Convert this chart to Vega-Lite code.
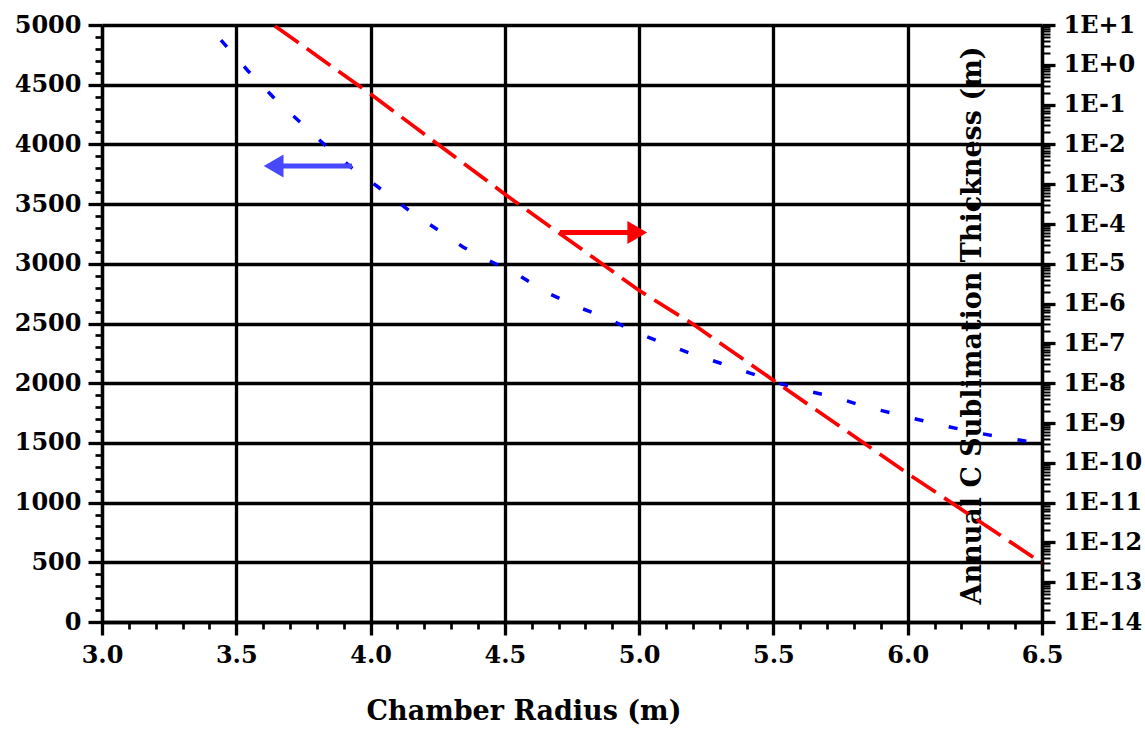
{
  "$schema": "https://vega.github.io/schema/vega-lite/v6.json",
  "width": 940,
  "height": 597,
  "autosize": {"type": "none"},
  "padding": {"left": 102, "top": 25, "right": 103, "bottom": 109},
  "background": "white",
  "config": {
    "view": {"stroke": null},
    "axis": {
      "labelFont": "DejaVu Serif", "labelFontWeight": "bold", "labelFontSize": 24, "labelColor": "black",
      "titleFont": "DejaVu Serif", "titleFontWeight": "bold", "titleFontSize": 27, "titleColor": "black",
      "domainColor": "black", "domainWidth": 3.3, "tickColor": "black", "tickWidth": 3.3,
      "gridColor": "black", "gridWidth": 3.3, "gridOpacity": 1, "labelFlush": false, "labelOverlap": false
    }
  },
  "datasets": {
    "left": [
      {"r": 3.443, "v": 4874}, {"r": 3.544, "v": 4615}, {"r": 3.637, "v": 4397}, {"r": 3.737, "v": 4188},
      {"r": 3.838, "v": 3978}, {"r": 3.931, "v": 3802}, {"r": 4.028, "v": 3643}, {"r": 4.136, "v": 3459},
      {"r": 4.240, "v": 3300}, {"r": 4.344, "v": 3141}, {"r": 4.452, "v": 3015}, {"r": 4.556, "v": 2898},
      {"r": 4.660, "v": 2755}, {"r": 4.772, "v": 2638}, {"r": 4.880, "v": 2546}, {"r": 4.984, "v": 2429},
      {"r": 5.089, "v": 2337}, {"r": 5.197, "v": 2245}, {"r": 5.301, "v": 2169}, {"r": 5.413, "v": 2085},
      {"r": 5.517, "v": 2002}, {"r": 5.625, "v": 1935}, {"r": 5.729, "v": 1884}, {"r": 5.833, "v": 1809},
      {"r": 5.941, "v": 1750}, {"r": 6.045, "v": 1692}, {"r": 6.157, "v": 1633}, {"r": 6.261, "v": 1583},
      {"r": 6.369, "v": 1541}, {"r": 6.500, "v": 1491}
    ],
    "thick": [
      {"r": 3.644, "t": 9.44}, {"r": 4.005, "t": 0.174}, {"r": 4.504, "t": 5.36e-4},
      {"r": 5.003, "t": 2.07e-6}, {"r": 5.200, "t": 3.07e-7}, {"r": 5.509, "t": 1.07e-8},
      {"r": 6.008, "t": 4.93e-11}, {"r": 6.500, "t": 3.03e-13}
    ],
    "arrows": [
      {"arrow": "left", "from": 3.931, "to": 3.66, "head": 3.639, "level": 3819},
      {"arrow": "right", "from": 4.705, "to": 4.97, "head": 4.993, "level": 3262}
    ]
  },
  "layer": [
    {
      "data": {"name": "left"},
      "mark": {"type": "line", "color": "#0000ff", "strokeWidth": 3.5, "strokeDash": [9, 26]},
      "encoding": {
        "x": {"field": "r", "type": "quantitative", "scale": {"domain": [3, 6.5], "nice": false, "zero": false},
          "axis": {"orient": "bottom", "values": [3, 3.5, 4, 4.5, 5, 5.5, 6, 6.5], "format": ".1f", "grid": true, "tickSize": 13, "labelPadding": 8,
            "title": "Chamber Radius (m)", "titleX": 421.5, "titleY": 97, "titleAlign": "center", "titleBaseline": "alphabetic"}},
        "y": {"field": "v", "type": "quantitative", "scale": {"domain": [0, 5000], "nice": false},
          "axis": {"orient": "left", "values": [0, 500, 1000, 1500, 2000, 2500, 3000, 3500, 4000, 4500, 5000], "format": "d", "grid": true, "tickSize": 14, "labelPadding": 7, "title": null}}
      }
    },
    {
      "data": {"name": "left"},
      "mark": {"type": "line", "opacity": 0},
      "encoding": {
        "x": {"field": "r", "type": "quantitative", "scale": {"domain": [3, 6.5], "nice": false, "zero": false},
          "axis": {"orient": "bottom", "values": [3.1, 3.2, 3.3, 3.4, 3.6, 3.7, 3.8, 3.9, 4.1, 4.2, 4.3, 4.4, 4.6, 4.7, 4.8, 4.9, 5.1, 5.2, 5.3, 5.4, 5.6, 5.7, 5.8, 5.9, 6.1, 6.2, 6.3, 6.4],
            "labels": false, "grid": false, "domain": false, "tickSize": 7, "tickWidth": 2.7, "title": null}},
        "y": {"field": "v", "type": "quantitative", "scale": {"domain": [0, 5000], "nice": false},
          "axis": {"orient": "left", "values": [100, 200, 300, 400, 600, 700, 800, 900, 1100, 1200, 1300, 1400, 1600, 1700, 1800, 1900, 2100, 2200, 2300, 2400, 2600, 2700, 2800, 2900, 3100, 3200, 3300, 3400, 3600, 3700, 3800, 3900, 4100, 4200, 4300, 4400, 4600, 4700, 4800, 4900],
            "labels": false, "grid": false, "domain": false, "tickSize": 7, "tickWidth": 2.7, "title": null}}
      }
    },
    {
      "data": {"name": "thick"},
      "mark": {"type": "line", "color": "#ff0000", "strokeWidth": 3.7, "strokeDash": [29, 10]},
      "encoding": {
        "x": {"field": "r", "type": "quantitative", "scale": {"domain": [3, 6.5], "nice": false, "zero": false}, "axis": null},
        "y": {"field": "t", "type": "quantitative", "scale": {"type": "log", "domain": [1e-14, 10], "nice": false},
          "axis": {"orient": "right", "values": [1e-14, 1e-13, 1e-12, 1e-11, 1e-10, 1e-9, 1e-8, 1e-7, 1e-6, 1e-5, 1e-4, 1e-3, 1e-2, 1e-1, 1, 10],
            "labelExpr": "'1E' + (datum.value >= 0.999 ? '+' : '') + round(log(datum.value) / LN10)",
            "grid": false, "tickSize": 13, "labelPadding": 8,
            "title": "Annual C Sublimation Thickness (m)", "titleAngle": 270, "titleX": -62, "titleY": 300,
            "titleAlign": "center", "titleBaseline": "alphabetic"}}
      }
    },
    {
      "data": {"name": "thick"},
      "mark": {"type": "line", "opacity": 0},
      "encoding": {
        "x": {"field": "r", "type": "quantitative", "scale": {"domain": [3, 6.5], "nice": false, "zero": false}, "axis": null},
        "y": {"field": "t", "type": "quantitative", "scale": {"type": "log", "domain": [1e-14, 10], "nice": false},
          "axis": {"orient": "right", "labels": false, "grid": false, "domain": false, "tickSize": 8, "tickWidth": 2, "title": null,
            "values": [2e-14,3e-14,4e-14,5e-14,6e-14,7e-14,8e-14,9e-14,
              2e-13,3e-13,4e-13,5e-13,6e-13,7e-13,8e-13,9e-13,
              2e-12,3e-12,4e-12,5e-12,6e-12,7e-12,8e-12,9e-12,
              2e-11,3e-11,4e-11,5e-11,6e-11,7e-11,8e-11,9e-11,
              2e-10,3e-10,4e-10,5e-10,6e-10,7e-10,8e-10,9e-10,
              2e-9,3e-9,4e-9,5e-9,6e-9,7e-9,8e-9,9e-9,
              2e-8,3e-8,4e-8,5e-8,6e-8,7e-8,8e-8,9e-8,
              2e-7,3e-7,4e-7,5e-7,6e-7,7e-7,8e-7,9e-7,
              2e-6,3e-6,4e-6,5e-6,6e-6,7e-6,8e-6,9e-6,
              2e-5,3e-5,4e-5,5e-5,6e-5,7e-5,8e-5,9e-5,
              2e-4,3e-4,4e-4,5e-4,6e-4,7e-4,8e-4,9e-4,
              2e-3,3e-3,4e-3,5e-3,6e-3,7e-3,8e-3,9e-3,
              2e-2,3e-2,4e-2,5e-2,6e-2,7e-2,8e-2,9e-2,
              0.2,0.3,0.4,0.5,0.6,0.7,0.8,0.9,
              2,3,4,5,6,7,8,9]}}
      }
    },
    {
      "data": {"name": "arrows"},
      "mark": {"type": "rule", "strokeWidth": 5},
      "encoding": {
        "x": {"field": "from", "type": "quantitative", "scale": {"domain": [3, 6.5], "nice": false, "zero": false}, "axis": null},
        "x2": {"field": "to"},
        "y": {"field": "level", "type": "quantitative", "scale": {"domain": [0, 5000], "nice": false}, "axis": null},
        "color": {"field": "arrow", "type": "nominal", "scale": {"domain": ["left", "right"], "range": ["#4848ff", "#ff0000"]}, "legend": null}
      }
    },
    {
      "data": {"name": "arrows"},
      "mark": {"type": "point", "filled": true, "opacity": 1, "size": 520},
      "encoding": {
        "x": {"field": "head", "type": "quantitative", "scale": {"domain": [3, 6.5], "nice": false, "zero": false}, "axis": null},
        "y": {"field": "level", "type": "quantitative", "scale": {"domain": [0, 5000], "nice": false}, "axis": null},
        "color": {"field": "arrow", "type": "nominal", "scale": {"domain": ["left", "right"], "range": ["#4848ff", "#ff0000"]}, "legend": null},
        "shape": {"field": "arrow", "type": "nominal", "scale": {"domain": ["left", "right"], "range": ["triangle-left", "triangle-right"]}, "legend": null}
      }
    }
  ],
  "resolve": {"scale": {"y": "independent"}, "axis": {"x": "independent", "y": "independent"}}
}
